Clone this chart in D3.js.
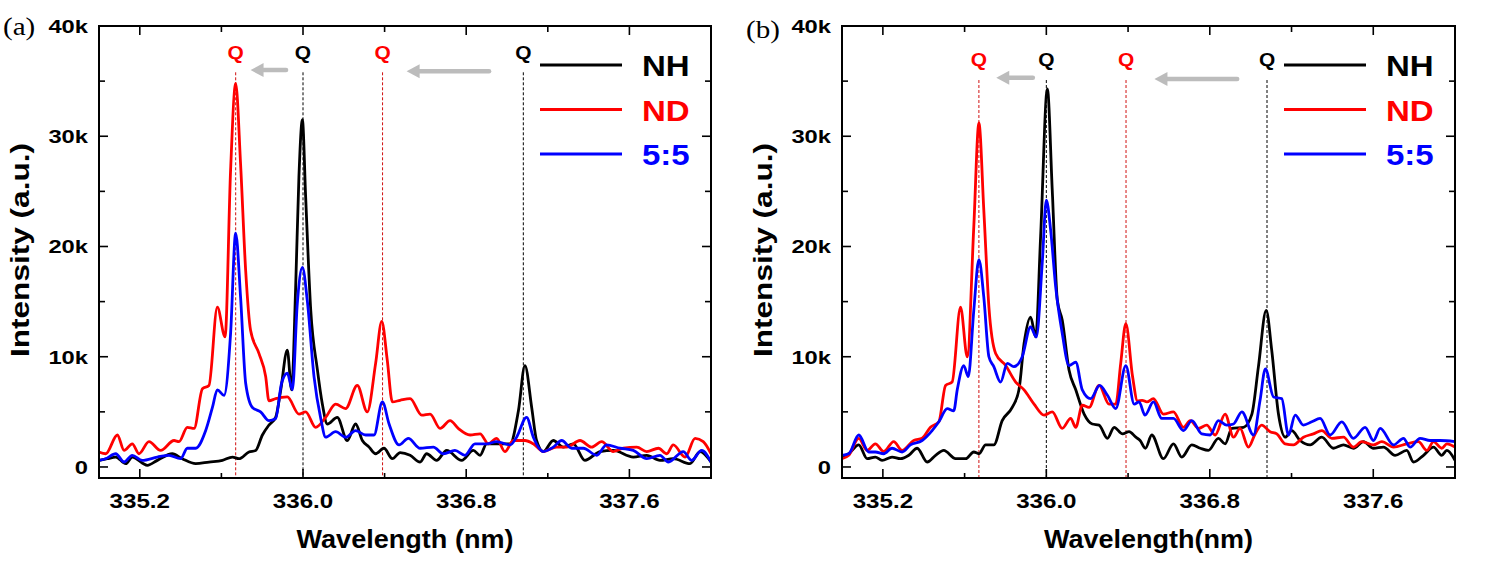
<!DOCTYPE html>
<html><head><meta charset="utf-8">
<script src="https://cdn.jsdelivr.net/npm/d3@7"></script>
<style>body{margin:0;background:#fff}</style>
</head><body><svg id="c" width="1487" height="567"></svg>
<script>
// ---- DATA (wavelength nm, intensity in k counts) ----
const nhA = [[335.000,0.6],[335.041,0.75],[335.082,0.9],[335.131,0.3],[335.163,0.9],[335.237,0.15],[335.286,0.6],[335.359,1.2],[335.408,0.75],[335.474,0.3],[335.539,0.45],[335.605,0.6],[335.654,0.9],[335.686,0.75],[335.735,1.36],[335.768,1.5],[335.801,2.9],[335.833,3.8],[335.866,4.5],[335.891,7.0],[335.923,10.6],[335.944,7.0],[335.964,16.3],[335.980,26.3],[335.997,31.5],[336.013,24.5],[336.038,14.2],[336.070,8.9],[336.095,5.7],[336.119,3.9],[336.168,4.5],[336.217,2.4],[336.258,3.9],[336.291,2.4],[336.324,1.8],[336.356,1.2],[336.397,1.7],[336.438,0.75],[336.476,1.3],[336.525,1.06],[336.574,0.45],[336.606,1.2],[336.655,0.6],[336.704,1.5],[336.778,0.6],[336.835,1.5],[336.868,1.06],[336.900,2.1],[336.966,2.1],[337.015,2.1],[337.056,5.1],[337.088,9.2],[337.121,5.4],[337.145,2.4],[337.178,1.4],[337.227,2.4],[337.276,1.8],[337.325,2.1],[337.382,0.6],[337.456,1.4],[337.521,1.5],[337.619,0.9],[337.685,1.06],[337.750,0.6],[337.815,0.75],[337.897,0.3],[337.946,1.4],[338.000,0.45]];
const ndA = [[335.000,1.36],[335.033,1.2],[335.090,2.9],[335.123,1.5],[335.163,2.1],[335.196,1.2],[335.245,2.3],[335.302,1.5],[335.368,2.4],[335.392,2.3],[335.433,3.6],[335.466,3.5],[335.507,7.1],[335.539,7.4],[335.580,14.5],[335.618,11.8],[335.645,26.9],[335.670,34.8],[335.694,27.5],[335.719,17.8],[335.743,12.4],[335.784,10.3],[335.817,8.2],[335.833,6.0],[335.866,6.2],[335.923,6.35],[335.980,4.8],[336.013,5.0],[336.062,3.6],[336.111,4.5],[336.160,5.7],[336.209,5.3],[336.266,7.4],[336.315,5.0],[336.356,9.4],[336.386,13.2],[336.413,9.7],[336.438,5.9],[336.476,6.05],[336.525,6.2],[336.582,4.7],[336.623,4.8],[336.672,3.5],[336.721,4.2],[336.761,3.5],[336.819,2.9],[336.868,3.0],[336.909,2.1],[336.949,2.6],[336.990,1.4],[337.031,2.4],[337.088,2.4],[337.129,2.1],[337.178,1.4],[337.243,1.8],[337.292,1.8],[337.358,2.4],[337.415,1.8],[337.464,2.3],[337.521,1.4],[337.570,1.7],[337.636,1.8],[337.685,1.4],[337.742,1.7],[337.783,1.2],[337.815,2.0],[337.873,0.9],[337.922,2.6],[337.962,2.3],[338.000,1.2]];
const mixA = [[335.000,0.6],[335.033,0.75],[335.082,1.2],[335.123,0.45],[335.163,1.06],[335.212,0.6],[335.286,0.9],[335.343,1.06],[335.400,0.75],[335.433,1.7],[335.474,1.7],[335.523,3.3],[335.556,5.4],[335.580,7.0],[335.613,6.5],[335.645,12.1],[335.670,21.2],[335.694,15.4],[335.719,7.6],[335.752,5.4],[335.792,5.0],[335.833,4.2],[335.866,4.4],[335.895,7.6],[335.923,8.5],[335.948,7.0],[335.972,14.8],[335.997,18.1],[336.021,15.1],[336.054,8.2],[336.087,4.4],[336.111,2.7],[336.160,3.2],[336.209,2.7],[336.258,3.3],[336.307,2.9],[336.348,2.9],[336.389,5.9],[336.422,3.9],[336.471,2.0],[336.516,2.6],[336.574,1.7],[336.639,1.8],[336.688,1.2],[336.745,1.5],[336.794,1.06],[336.843,2.1],[336.900,2.1],[336.949,2.3],[337.015,2.0],[337.047,2.7],[337.096,4.5],[337.129,2.7],[337.178,1.4],[337.227,1.8],[337.268,2.4],[337.317,1.7],[337.374,1.7],[337.440,1.06],[337.488,2.0],[337.554,1.7],[337.619,1.5],[337.685,0.75],[337.750,1.06],[337.791,0.45],[337.864,1.4],[337.905,0.6],[337.954,1.5],[338.000,0.45]];

const nhB = [[335.000,0.9],[335.033,1.2],[335.082,2.0],[335.123,0.75],[335.163,0.9],[335.196,0.6],[335.245,0.9],[335.286,0.75],[335.327,1.06],[335.368,1.7],[335.417,0.45],[335.458,1.06],[335.498,1.5],[335.556,0.75],[335.605,0.75],[335.645,1.36],[335.670,1.2],[335.703,2.0],[335.743,2.0],[335.784,4.2],[335.833,5.4],[335.866,7.0],[335.891,11.2],[335.923,13.6],[335.948,11.8],[335.972,20.9],[336.005,34.3],[336.029,25.1],[336.054,15.1],[336.078,13.3],[336.111,8.8],[336.144,7.0],[336.185,4.8],[336.225,3.9],[336.258,3.8],[336.299,2.6],[336.332,3.6],[336.373,3.0],[336.405,3.2],[336.438,2.7],[336.459,2.4],[336.485,1.7],[336.516,2.9],[336.573,0.75],[336.622,2.1],[336.663,0.9],[336.712,2.0],[336.753,1.7],[336.793,1.5],[336.842,2.6],[336.875,2.1],[336.908,3.5],[336.965,3.6],[337.006,4.8],[337.038,9.1],[337.076,14.2],[337.103,10.6],[337.136,4.8],[337.169,2.7],[337.201,3.3],[337.242,2.4],[337.291,2.0],[337.348,2.7],[337.405,1.7],[337.454,2.0],[337.503,1.7],[337.552,2.3],[337.601,1.7],[337.650,1.8],[337.707,1.06],[337.764,1.5],[337.797,0.45],[337.846,1.06],[337.895,1.8],[337.935,1.06],[337.960,1.5],[338.000,0.6]];
const ndB = [[335.000,0.75],[335.033,1.06],[335.082,2.6],[335.123,1.5],[335.163,2.1],[335.204,1.4],[335.253,2.3],[335.294,1.5],[335.351,2.4],[335.392,2.6],[335.433,3.6],[335.474,4.1],[335.507,7.4],[335.539,7.7],[335.580,14.5],[335.613,10.0],[335.645,21.8],[335.670,31.2],[335.694,23.3],[335.719,14.5],[335.752,10.3],[335.801,9.2],[335.850,7.7],[335.891,7.0],[335.940,5.7],[335.989,4.7],[336.029,5.0],[336.078,3.5],[336.119,4.4],[336.144,3.6],[336.176,5.6],[336.209,5.4],[336.258,7.4],[336.307,5.7],[336.340,5.7],[336.364,9.4],[336.389,13.0],[336.422,8.2],[336.446,6.0],[336.469,6.05],[336.492,5.9],[336.524,6.2],[336.573,4.8],[336.622,5.0],[336.671,3.6],[336.704,4.2],[336.745,3.5],[336.785,3.8],[336.826,2.9],[336.875,4.8],[336.916,2.7],[336.948,3.5],[336.989,1.8],[337.022,3.0],[337.054,3.8],[337.095,3.2],[337.128,3.0],[337.169,2.1],[337.209,2.0],[337.258,2.7],[337.307,3.0],[337.348,3.3],[337.397,2.6],[337.454,2.7],[337.503,1.8],[337.544,2.3],[337.601,2.0],[337.642,2.3],[337.699,1.8],[337.764,2.1],[337.821,2.3],[337.862,1.5],[337.895,2.3],[337.935,1.7],[337.960,2.1],[338.000,1.8]];
const mixB = [[335.000,1.06],[335.033,1.2],[335.082,2.9],[335.131,1.36],[335.163,1.36],[335.204,1.2],[335.245,1.7],[335.294,1.36],[335.335,2.0],[335.392,2.4],[335.441,3.3],[335.474,4.1],[335.515,5.3],[335.547,5.1],[335.564,7.0],[335.596,9.2],[335.618,8.2],[335.645,14.2],[335.670,18.8],[335.694,15.4],[335.719,10.0],[335.743,9.1],[335.776,7.7],[335.809,9.4],[335.841,9.1],[335.882,10.0],[335.923,12.7],[335.951,11.8],[335.980,18.5],[336.000,24.2],[336.021,21.5],[336.046,16.3],[336.078,12.1],[336.111,9.2],[336.144,9.5],[336.176,7.0],[336.217,6.2],[336.261,7.4],[336.299,6.5],[336.340,5.3],[336.389,9.2],[336.430,5.7],[336.454,5.9],[336.483,4.7],[336.524,5.9],[336.565,4.4],[336.622,4.4],[336.671,3.3],[336.712,4.2],[336.761,3.0],[336.802,2.9],[336.842,4.2],[336.883,3.8],[336.916,3.9],[336.957,5.0],[337.014,2.9],[337.046,6.05],[337.072,8.9],[337.112,6.35],[337.152,6.2],[337.185,2.9],[337.218,4.7],[337.258,3.8],[337.299,4.1],[337.340,4.4],[337.389,2.9],[337.446,4.1],[337.503,2.6],[337.560,3.6],[337.601,2.4],[337.634,3.5],[337.699,2.0],[337.748,2.6],[337.780,1.8],[337.829,2.6],[337.878,2.4],[337.927,2.4],[338.000,2.3]];

const seriesNames = ["NH", "ND", "5:5"];
const seriesColors = ["#000000", "#ff0000", "#0000ff"];
const xDomain = [335.0, 338.0];
const yDomain = [-1, 40];
const xMajor = [335.2, 336.0, 336.8, 337.6];
const xMinor = [335.6, 336.4, 337.2];
const yMajor = [0, 10, 20, 30, 40];
const yMinor = [5, 15, 25, 35];
const yTickLabels = ["0", "10k", "20k", "30k", "40k"];
const qWavelengths = [335.67, 336.0, 336.39, 337.08];
const qColors = ["#ff0000", "#000000", "#ff0000", "#000000"];
const arrowsA = [[335.917, 335.743, 36.0], [336.912, 336.508, 35.9]];
const arrowsB = [[335.934, 335.755, 35.3], [336.934, 336.529, 35.2]];

const panels = [
  {label: "(a)", series: [nhA, ndA, mixA], xTitle: "Wavelength (nm)", arrows: arrowsA,
   left: 99, right: 711, top: 26, bottom: 478, qLabelY: 37.0, qLineTop: 35.8, labelX: 3, labelY: 35, yTitleX: 29},
  {label: "(b)", series: [nhB, ndB, mixB], xTitle: "Wavelength(nm)", arrows: arrowsB,
   left: 842, right: 1455, top: 26, bottom: 478, qLabelY: 36.4, qLineTop: 35.1, labelX: 746, labelY: 38, yTitleX: 772}
];

const svg = d3.select("#c");
const FONT = "'Liberation Sans', Arial, sans-serif";

function txt(g, x, y, s, o) {
  const t = g.append("text")
    .attr("transform", `translate(${x},${y})` + (o.rot ? ` rotate(${o.rot})` : "") + ` scale(${o.sx || 1},1)`)
    .attr("font-family", o.family || FONT)
    .attr("font-weight", o.weight || "bold")
    .attr("font-size", o.size)
    .attr("fill", o.fill || "#000")
    .attr("text-anchor", o.anchor || "start")
    .text(s);
  if (o.len) t.attr("textLength", o.len).attr("lengthAdjust", "spacingAndGlyphs");
  return t;
}

panels.forEach((p, pi) => {
  const x = d3.scaleLinear().domain(xDomain).range([p.left, p.right]);
  const y = d3.scaleLinear().domain(yDomain).range([p.bottom, p.top]);
  const g = svg.append("g");
  const clipId = "clip" + pi;
  svg.append("clipPath").attr("id", clipId).append("rect")
    .attr("x", p.left).attr("y", p.top).attr("width", p.right - p.left).attr("height", p.bottom - p.top);

  // Q dashed lines
  qWavelengths.forEach((w, i) => {
    g.append("line").attr("x1", x(w)).attr("x2", x(w)).attr("y1", y(p.qLineTop)).attr("y2", y(yDomain[0]))
      .attr("stroke", qColors[i] === "#000000" ? "#000" : "#d01010").attr("stroke-width", 1)
      .attr("stroke-dasharray", "3,2");
    txt(g, x(w), y(p.qLabelY), "Q", {size: 19, anchor: "middle", fill: qColors[i], sx: 1.1});
  });

  // arrows
  p.arrows.forEach(a => {
    const x1 = x(a[0]), x2 = x(a[1]), yy = y(a[2]);
    const head = 13, hh = 7;
    g.append("line").attr("x1", x1).attr("x2", x2 + head - 1).attr("y1", yy).attr("y2", yy)
      .attr("stroke", "#bcbcbc").attr("stroke-width", 4.5).attr("stroke-linecap", "round");
    g.append("path").attr("d", `M${x2},${yy} L${x2 + head},${yy - hh} L${x2 + head},${yy + hh} Z`).attr("fill", "#bcbcbc");
  });

  // series
  const line = d3.line().x(d => x(d[0])).y(d => y(d[1])).curve(d3.curveMonotoneX);
  const sg = g.append("g").attr("clip-path", `url(#${clipId})`);
  p.series.forEach((s, i) => {
    sg.append("path").datum(s).attr("d", line).attr("fill", "none")
      .attr("stroke", seriesColors[i]).attr("stroke-width", 2.8).attr("stroke-linejoin", "round");
  });

  // frame
  g.append("rect").attr("x", p.left).attr("y", p.top).attr("width", p.right - p.left).attr("height", p.bottom - p.top)
    .attr("fill", "none").attr("stroke", "#000").attr("stroke-width", 2);

  // ticks (inward, mirrored)
  const tk = (x1, y1, x2, y2) => g.append("line").attr("x1", x1).attr("y1", y1).attr("x2", x2).attr("y2", y2)
    .attr("stroke", "#000").attr("stroke-width", 1.6);
  xMajor.forEach(v => { tk(x(v), p.bottom, x(v), p.bottom - 9); tk(x(v), p.top, x(v), p.top + 9); });
  xMinor.forEach(v => { tk(x(v), p.bottom, x(v), p.bottom - 5); tk(x(v), p.top, x(v), p.top + 6); });
  yMajor.forEach(v => { tk(p.left, y(v), p.left + 9, y(v)); tk(p.right, y(v), p.right - 9, y(v)); });
  yMinor.forEach(v => { tk(p.left, y(v), p.left + 6, y(v)); tk(p.right, y(v), p.right - 6, y(v)); });

  // tick labels
  xMajor.forEach(v => txt(g, x(v), p.bottom + 30, v.toFixed(1), {size: 21, anchor: "middle", sx: 1.15}));
  yMajor.forEach((v, i) => txt(g, p.left - 11, y(v) + 7, yTickLabels[i], {size: 19, anchor: "end", sx: 1.25}));

  // axis titles
  txt(g, (p.left + p.right) / 2, 548, p.xTitle, {size: 25, anchor: "middle", len: pi === 0 ? 217 : 209});
  txt(g, p.yTitleX, 250, "Intensity (a.u.)", {size: 25, anchor: "middle", rot: -90, len: 214});

  // panel label
  txt(g, p.labelX, p.labelY, p.label, {size: 26, weight: "normal", family: "'Liberation Serif', 'Times New Roman', serif", sx: 1.12});

  // legend
  seriesNames.forEach((n, i) => {
    const ly = p.top + 39 + i * 44.5;
    g.append("line").attr("x1", p.right - 171).attr("x2", p.right - 89).attr("y1", ly).attr("y2", ly)
      .attr("stroke", seriesColors[i]).attr("stroke-width", 3);
    txt(g, p.right - 69, ly + 11, n, {size: 30, fill: seriesColors[i], sx: 1.1});
  });
});
</script></body></html>
